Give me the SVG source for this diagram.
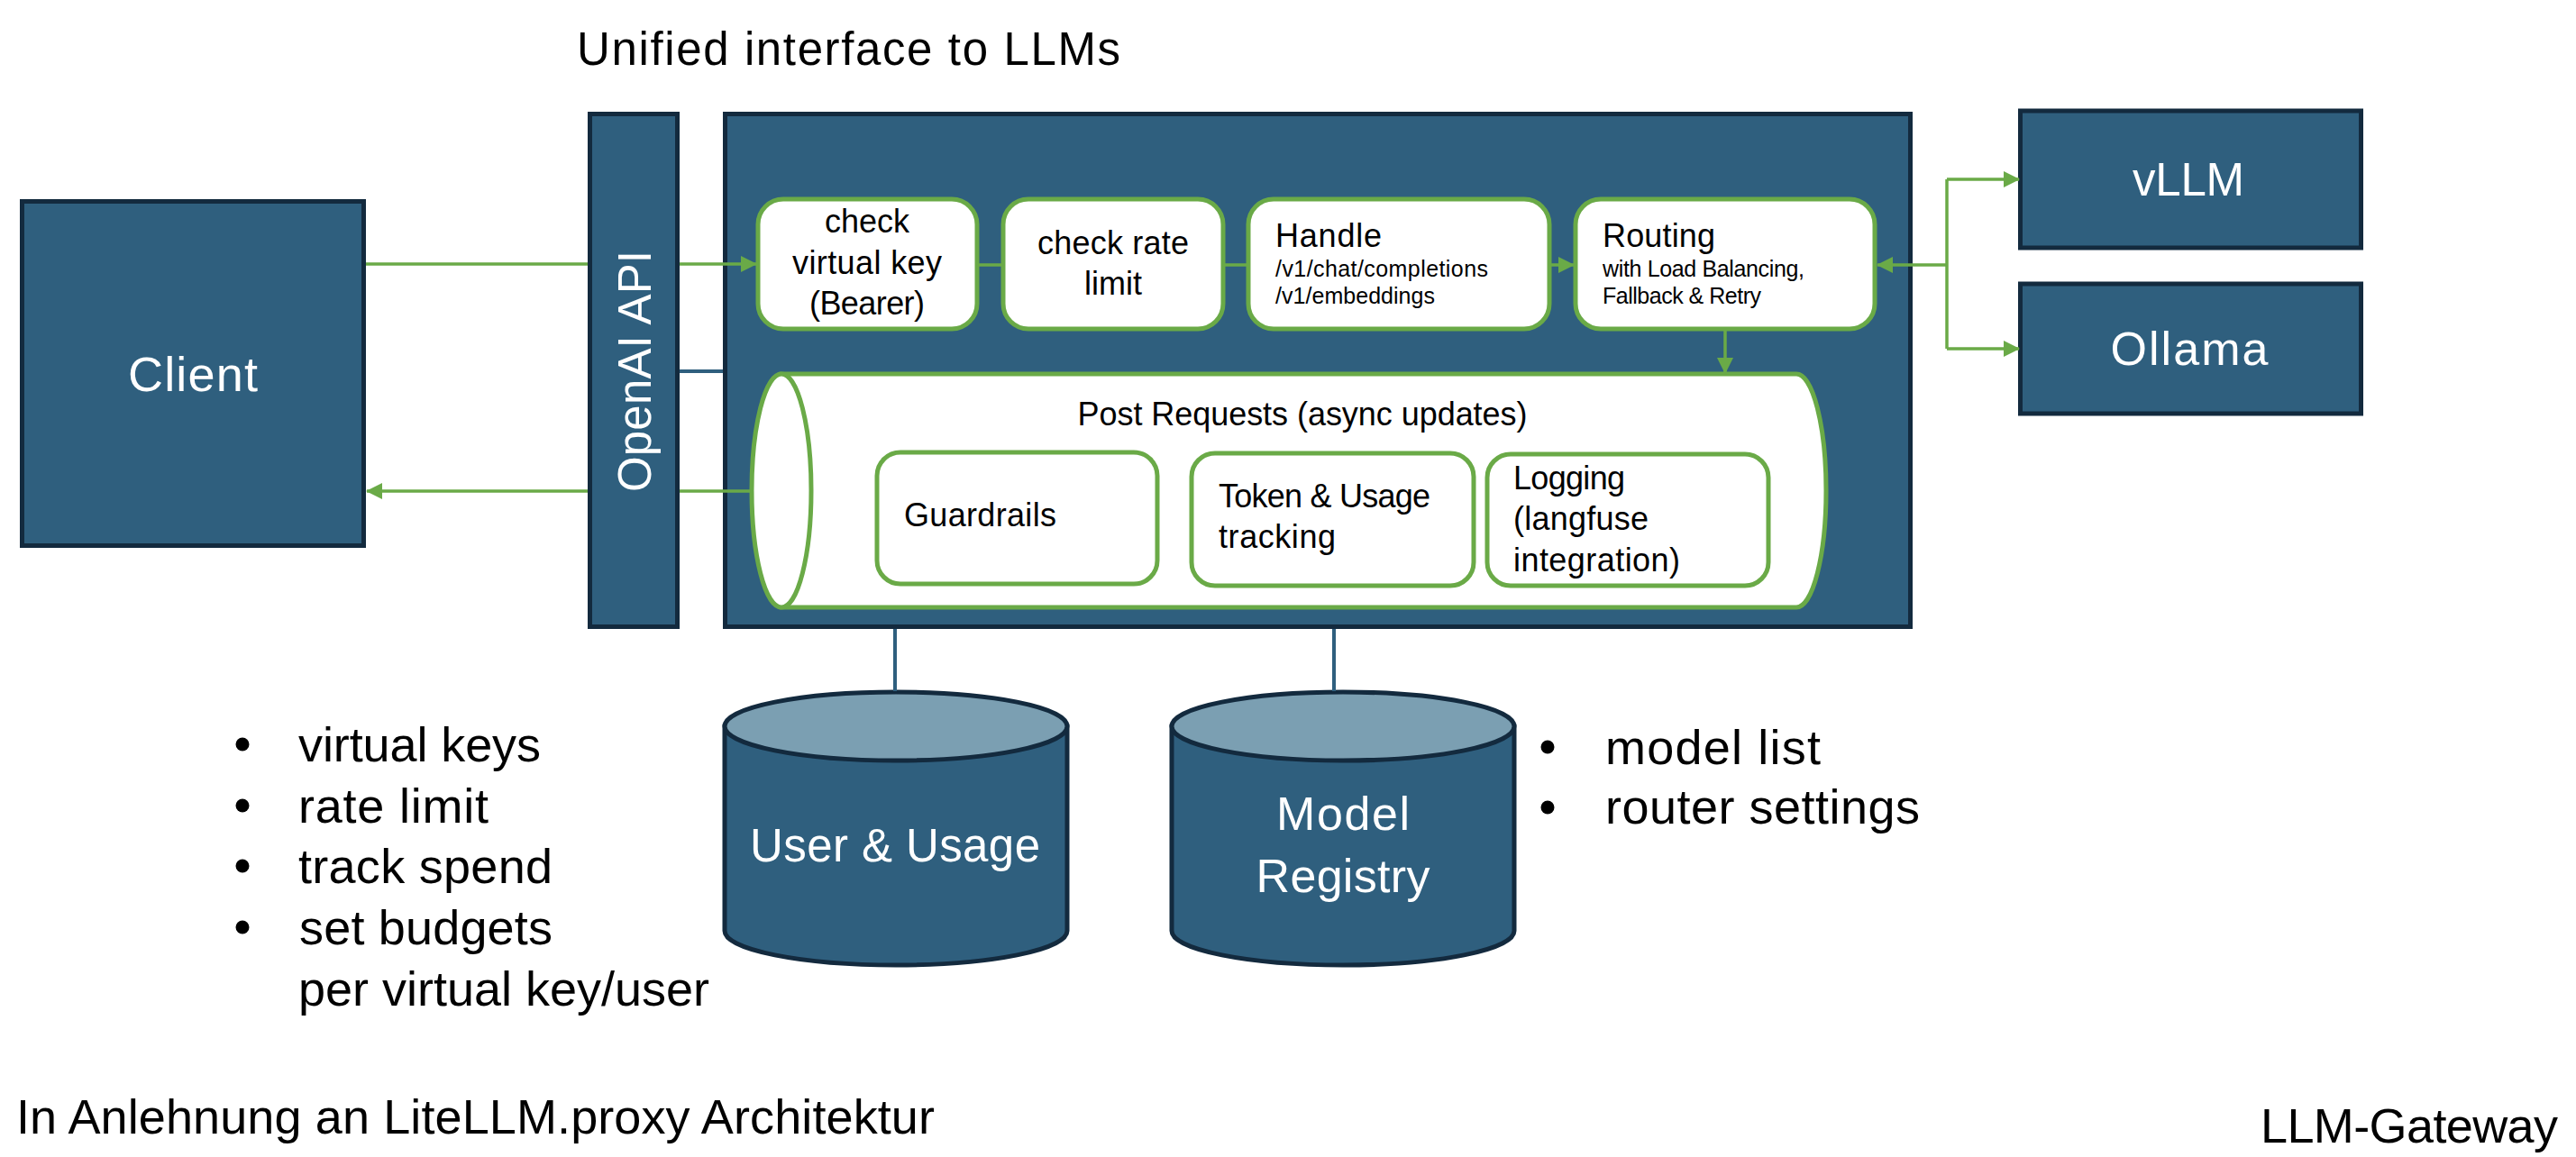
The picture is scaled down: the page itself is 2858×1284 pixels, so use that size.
<svg xmlns="http://www.w3.org/2000/svg" width="2858" height="1284" viewBox="0 0 2858 1284">
<defs>
<style>
.node{fill:#2f5f7e;stroke:#132a3e;stroke-width:5}
.box{fill:#ffffff;stroke:#6aaa47;stroke-width:5}
.conn{stroke:#6aaa47;stroke-width:3.5;fill:none}
.link{stroke:#2f5f7e;stroke-width:4;fill:none}
.dbtop{fill:#7b9fb2;stroke:#132a3e;stroke-width:5}
.t{font-family:"Liberation Sans",Arial,sans-serif;fill:#000}
.w{font-family:"Liberation Sans",Arial,sans-serif;fill:#ffffff}
.dot{fill:#000}
</style>
<marker id="ah" markerUnits="userSpaceOnUse" markerWidth="18" markerHeight="18" refX="17" refY="9" orient="auto">
<path d="M0,0 L18,9 L0,18 Z" fill="#6aaa47"/>
</marker>
</defs>
<rect width="2858" height="1284" fill="#ffffff"/>

<text id="title" class="t" x="640" y="72" font-size="51" textLength="603">Unified interface to LLMs</text>

<g id="client">
<rect class="node" x="24.5" y="223.5" width="379" height="382"/>
<text class="w" x="214" y="434" font-size="54" text-anchor="middle" textLength="144">Client</text>
</g>

<g id="openai-api">
<rect class="node" x="654.5" y="126.5" width="97" height="569"/>
<text class="w" transform="translate(722,412) rotate(-90)" font-size="51" text-anchor="middle" textLength="268">OpenAI API</text>
</g>

<g id="gateway">
<rect class="node" x="804.5" y="126.5" width="1315" height="569"/>
</g>

<g id="check-virtual-key">
<rect class="box" x="841" y="221" width="243" height="144" rx="28"/>
<text class="t" x="962" y="258" font-size="36" text-anchor="middle">check</text>
<text class="t" x="962" y="304" font-size="36" text-anchor="middle" textLength="166">virtual key</text>
<text class="t" x="962" y="349" font-size="36" text-anchor="middle" textLength="128">(Bearer)</text>
</g>

<g id="check-rate-limit">
<rect class="box" x="1113" y="221" width="244" height="144" rx="28"/>
<text class="t" x="1235" y="282" font-size="36" text-anchor="middle" textLength="168">check rate</text>
<text class="t" x="1235" y="327" font-size="36" text-anchor="middle">limit</text>
</g>

<g id="handle">
<rect class="box" x="1385" y="221" width="334" height="144" rx="28"/>
<text class="t" x="1415" y="274" font-size="36" textLength="118">Handle</text>
<text class="t" x="1415" y="307" font-size="25" textLength="236">/v1/chat/completions</text>
<text class="t" x="1415" y="337" font-size="25" textLength="177">/v1/embeddings</text>
</g>

<g id="routing">
<rect class="box" x="1748" y="221" width="332" height="144" rx="28"/>
<text class="t" x="1778" y="274" font-size="36" textLength="125">Routing</text>
<text class="t" x="1778" y="307" font-size="25" textLength="224">with Load Balancing,</text>
<text class="t" x="1778" y="337" font-size="25" textLength="176">Fallback &amp; Retry</text>
</g>

<g id="post-requests">
<path class="box" d="M867,415 L1993,415 A33,129.5 0 0 1 1993,674 L867,674 Z"/>
<ellipse class="box" cx="867" cy="544.5" rx="33" ry="129.5"/>
<text class="t" x="1445" y="472" font-size="36" text-anchor="middle" textLength="499">Post Requests (async updates)</text>
</g>

<g id="guardrails">
<rect class="box" x="973" y="502" width="311" height="146" rx="26"/>
<text class="t" x="1003" y="584" font-size="36" textLength="169">Guardrails</text>
</g>

<g id="token-usage">
<rect class="box" x="1322" y="503" width="313" height="147" rx="26"/>
<text class="t" x="1352" y="563" font-size="36" textLength="235">Token &amp; Usage</text>
<text class="t" x="1352" y="608" font-size="36" textLength="130">tracking</text>
</g>

<g id="logging">
<rect class="box" x="1650" y="504" width="312" height="146" rx="26"/>
<text class="t" x="1679" y="543" font-size="36" textLength="124">Logging</text>
<text class="t" x="1679" y="588" font-size="36" textLength="150">(langfuse</text>
<text class="t" x="1679" y="634" font-size="36" textLength="185">integration)</text>
</g>

<g id="vllm">
<rect class="node" x="2241.5" y="123" width="378" height="152"/>
<text class="w" x="2428" y="217" font-size="51" text-anchor="middle" textLength="124">vLLM</text>
</g>

<g id="ollama">
<rect class="node" x="2241.5" y="315" width="378" height="144"/>
<text class="w" x="2429" y="405" font-size="52" text-anchor="middle" textLength="175">Ollama</text>
</g>

<g id="user-usage">
<path class="node" d="M804,806 L804,1033 A190,38 0 0 0 1184,1033 L1184,806 Z"/>
<ellipse class="dbtop" cx="994" cy="806" rx="190" ry="38"/>
<text class="w" x="993" y="956" font-size="51" text-anchor="middle" textLength="322">User &amp; Usage</text>
</g>

<g id="model-registry">
<path class="node" d="M1300,806 L1300,1033 A190,38 0 0 0 1680,1033 L1680,806 Z"/>
<ellipse class="dbtop" cx="1490" cy="806" rx="190" ry="38"/>
<text class="w" x="1490" y="921" font-size="52" text-anchor="middle" textLength="148">Model</text>
<text class="w" x="1490" y="990" font-size="52" text-anchor="middle" textLength="193">Registry</text>
</g>

<g id="connectors">
<line class="conn" x1="406" y1="293" x2="652" y2="293"/>
<line class="conn" x1="754" y1="293" x2="839" y2="293" marker-end="url(#ah)"/>
<line class="conn" x1="834" y1="545" x2="754" y2="545"/>
<line class="conn" x1="652" y1="545" x2="407" y2="545" marker-end="url(#ah)"/>
<line class="conn" x1="1086" y1="294" x2="1111" y2="294"/>
<line class="conn" x1="1359" y1="294" x2="1383" y2="294"/>
<line class="conn" x1="1721" y1="294" x2="1746" y2="294" marker-end="url(#ah)"/>
<line class="conn" x1="1914" y1="367" x2="1914" y2="414" marker-end="url(#ah)"/>
<line class="conn" x1="2160" y1="294" x2="2083" y2="294" marker-end="url(#ah)"/>
<polyline class="conn" points="2160,199 2160,387"/>
<line class="conn" x1="2160" y1="199" x2="2240" y2="199" marker-end="url(#ah)"/>
<line class="conn" x1="2160" y1="387" x2="2240" y2="387" marker-end="url(#ah)"/>
<line class="link" x1="754" y1="412" x2="802" y2="412"/>
<line class="link" x1="993" y1="698" x2="993" y2="767"/>
<line class="link" x1="1480" y1="698" x2="1480" y2="767"/>
</g>

<g id="notes-left">
<circle class="dot" cx="269" cy="826" r="7.5"/>
<circle class="dot" cx="269" cy="894" r="7.5"/>
<circle class="dot" cx="269" cy="961" r="7.5"/>
<circle class="dot" cx="269" cy="1029" r="7.5"/>
<text class="t" x="331" y="845" font-size="54" textLength="269">virtual keys</text>
<text class="t" x="331" y="913" font-size="54" textLength="211">rate limit</text>
<text class="t" x="331" y="980" font-size="54" textLength="282">track spend</text>
<text class="t" x="332" y="1048" font-size="54" textLength="281">set budgets</text>
<text class="t" x="331" y="1116" font-size="54" textLength="456">per virtual key/user</text>
</g>

<g id="notes-right">
<circle class="dot" cx="1717" cy="829" r="7.5"/>
<circle class="dot" cx="1717" cy="896" r="7.5"/>
<text class="t" x="1781" y="848" font-size="54" textLength="239">model list</text>
<text class="t" x="1781" y="914" font-size="54" textLength="349">router settings</text>
</g>

<text id="footer-left" class="t" x="18" y="1258" font-size="54" textLength="1019">In Anlehnung an LiteLLM.proxy Architektur</text>
<text id="footer-right" class="t" x="2838" y="1268" font-size="54" text-anchor="end" textLength="330">LLM-Gateway</text>
</svg>
